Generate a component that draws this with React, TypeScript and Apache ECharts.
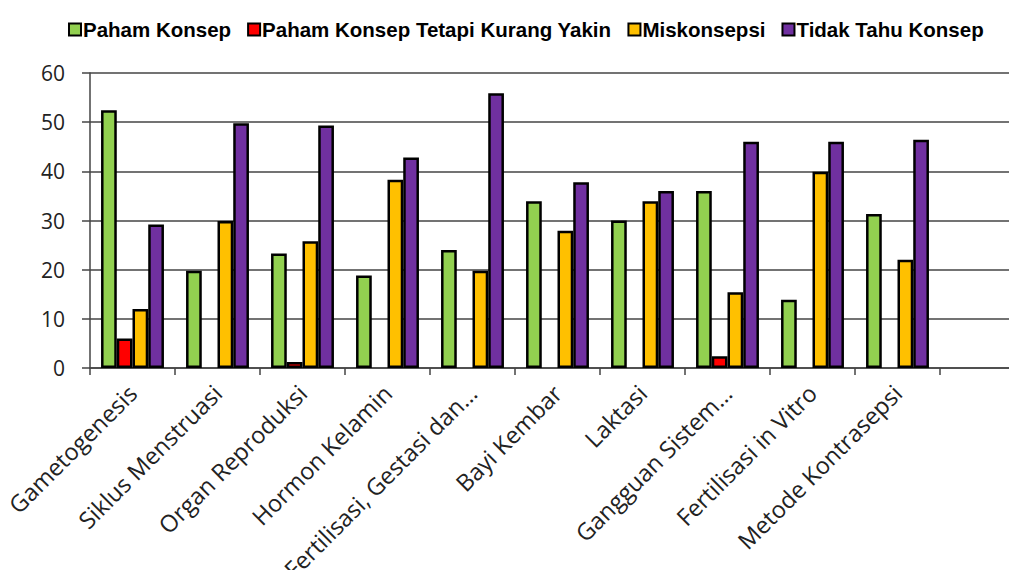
import React, { useEffect, useRef } from "react";
import * as echarts from "echarts";

const categories = [
  "Gametogenesis",
  "Siklus Menstruasi",
  "Organ Reproduksi",
  "Hormon Kelamin",
  "Fertilisasi, Gestasi dan…",
  "Bayi Kembar",
  "Laktasi",
  "Gangguan Sistem…",
  "Fertilisasi in Vitro",
  "Metode Kontrasepsi",
  "",
];
const pahamKonsep = [52.4, 19.8, 23.3, 18.8, 24.0, 33.9, 30.0, 36.0, 13.9, 31.3, null];
const kurangYakin = [6.0, null, 1.2, null, null, null, null, 2.4, null, null, null];
const miskonsepsi = [12.0, 29.9, 25.8, 38.3, 19.8, 27.9, 33.9, 15.4, 39.9, 22.0, null];
const tidakTahu = [29.2, 49.8, 49.3, 42.8, 55.9, 37.8, 36.0, 46.0, 46.0, 46.4, null];
const yTicks = [0, 60, 10];

const names = ["Paham Konsep", "Paham Konsep Tetapi Kurang Yakin", "Miskonsepsi", "Tidak Tahu Konsep"];
const colors = ["#92d050", "#ff0000", "#ffc000", "#7030a0"];

export default function App() {
  const ref = useRef<HTMLDivElement>(null);
  useEffect(() => {
    const chart = echarts.init(ref.current!, null, { renderer: "svg" });
    const data = [pahamKonsep, kurangYakin, miskonsepsi, tidakTahu];
    chart.setOption({
      animation: false,
      legend: {
        top: 14,
        left: 63,
        itemWidth: 12,
        itemHeight: 12,
        itemGap: 16,
        icon: "rect",
        textStyle: {
          fontFamily: "'Liberation Sans', sans-serif",
          fontWeight: "bold",
          fontSize: 20.5,
          color: "#000",
          padding: [0, 0, 0, -3],
        },
        data: names,
      },
      grid: {
        left: 90,
        top: 73,
        bottom: 202,
        right: -16,
        containLabel: false,
        outerBoundsMode: "none",
      },
      xAxis: {
        type: "category",
        data: categories,
        axisLine: { lineStyle: { color: "#444", width: 1.5 } },
        axisTick: { show: true, length: 7, lineStyle: { color: "#444", width: 1.5 } },
        axisLabel: {
          rotate: 45,
          interval: 0,
          fontSize: 23.5,
          fontFamily: "'Open Sans', sans-serif",
          color: "#222",
          margin: 21,
        },
      },
      yAxis: {
        type: "value",
        min: yTicks[0],
        max: yTicks[1],
        interval: yTicks[2],
        axisLine: { show: true, lineStyle: { color: "#444", width: 1.5 } },
        axisTick: { show: true, length: 8, lineStyle: { color: "#444", width: 1.5 } },
        splitLine: { lineStyle: { color: "#444", width: 1.5 } },
        axisLabel: {
          fontSize: 21,
          fontFamily: "'Open Sans', sans-serif",
          color: "#222",
          margin: 25,
        },
      },
      series: names.map((n, i) => ({
        name: n,
        type: "bar",
        data: data[i],
        barGap: "0%",
        barCategoryGap: "26%",
        itemStyle: { color: colors[i], borderColor: "#000", borderWidth: 2.5 },
      })),
    });
    return () => chart.dispose();
  }, []);
  return (
    <div
      ref={ref}
      style={{ position: "fixed", left: 0, top: 0, width: 1009, height: 570, background: "#fff" }}
    />
  );
}
